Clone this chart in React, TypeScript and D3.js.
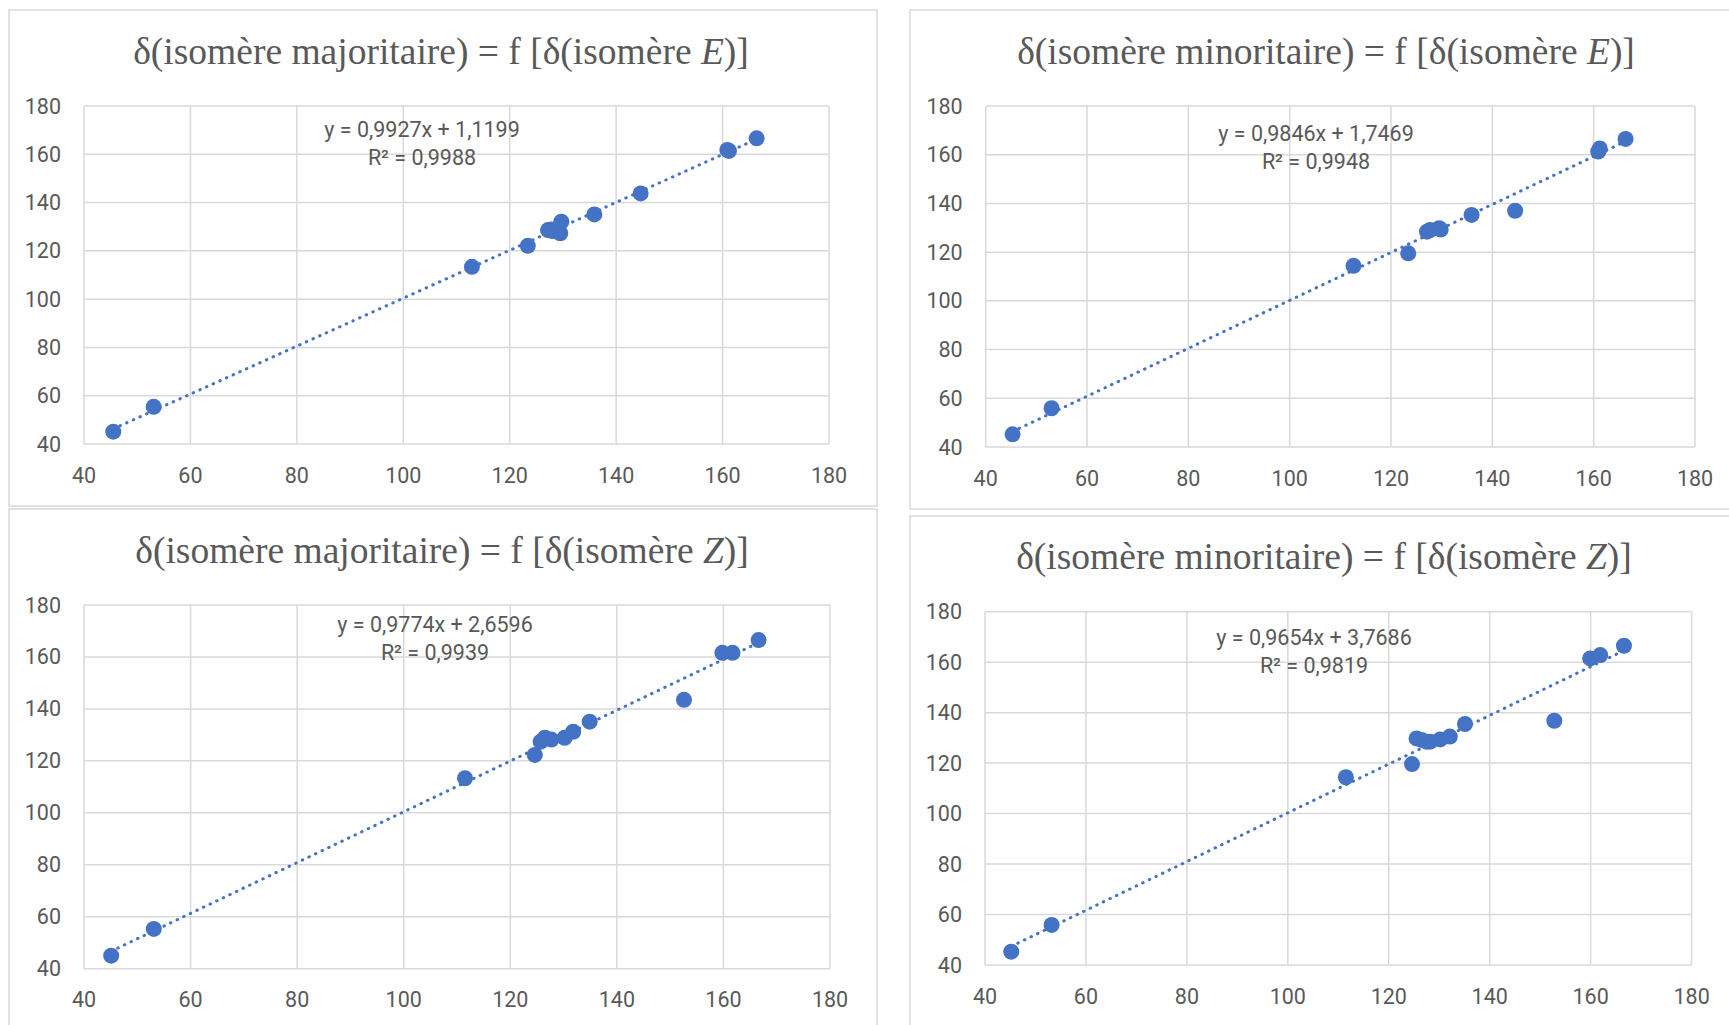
import React from "react";
import * as d3 from "d3";

// ---------- data ----------
const ticks = [40, 60, 80, 100, 120, 140, 160, 180];

const titlePrefix = [
  "δ(isomère majoritaire) = f [δ(isomère ",
  "δ(isomère minoritaire) = f [δ(isomère ",
  "δ(isomère majoritaire) = f [δ(isomère ",
  "δ(isomère minoritaire) = f [δ(isomère ",
];
const titleIsomer = ["E", "E", "Z", "Z"];

// Panel 1: majoritaire vs E
const xE_maj = [45.5, 53.1, 112.9, 123.4, 127.2, 127.8, 128.0, 129.5, 129.7, 135.9, 144.6, 160.9, 161.2, 166.4];
const yMaj_E = [45.1, 55.4, 113.4, 122.1, 128.6, 128.8, 128.2, 127.3, 132.1, 135.1, 143.8, 161.8, 161.4, 166.6];
// Panel 2: minoritaire vs E
const xE_min = [45.3, 53.0, 112.6, 123.4, 127.1, 127.7, 129.5, 129.8, 135.9, 144.5, 160.9, 161.2, 166.3];
const yMin_E = [45.2, 55.9, 114.4, 119.5, 128.4, 129.1, 129.8, 129.3, 135.3, 137.0, 161.3, 162.6, 166.5];
// Panel 3: majoritaire vs Z
const xZ_maj = [45.1, 53.1, 111.5, 124.6, 125.7, 126.5, 127.7, 130.2, 131.8, 134.9, 152.6, 159.8, 161.7, 166.6];
const yMaj_Z = [45.0, 55.3, 113.3, 122.3, 127.4, 128.9, 128.2, 128.9, 131.2, 135.1, 143.5, 161.6, 161.6, 166.5];
// Panel 4: minoritaire vs Z
const xZ_min = [45.2, 53.2, 111.5, 124.6, 125.5, 126.5, 127.5, 128.2, 130.2, 132.1, 135.1, 152.8, 159.9, 161.9, 166.6];
const yMin_Z = [45.3, 55.9, 114.4, 119.6, 129.8, 129.2, 128.5, 128.5, 129.4, 130.5, 135.5, 136.8, 161.5, 162.8, 166.5];

const slopes = [0.9927, 0.9846, 0.9774, 0.9654];
const intercepts = [1.1199, 1.7469, 2.6596, 3.7686];
const r2 = [0.9988, 0.9948, 0.9939, 0.9819];

const seriesX = [xE_maj, xE_min, xZ_maj, xZ_min];
const seriesY = [yMaj_E, yMin_E, yMaj_Z, yMin_Z];

// ---------- layout ----------
const layout = [
  { px0: 84, px1: 829, py0: 106, py1: 444, fx: 9, fy: 10, fw: 868, fh: 496, tx: 441, ty: 64, ex: 422, ey: 137 },
  { px0: 985.7, px1: 1695, py0: 106, py1: 447, fx: 910, fy: 10, fw: 830, fh: 499, tx: 1326, ty: 64, ex: 1316, ey: 141 },
  { px0: 84, px1: 830, py0: 605, py1: 968.7, fx: 9, fy: 509, fw: 868, fh: 530, tx: 442, ty: 563, ex: 435, ey: 632 },
  { px0: 985, px1: 1691.6, py0: 611.7, py1: 965, fx: 910, fy: 516, fw: 830, fh: 520, tx: 1324, ty: 569, ex: 1314, ey: 645 },
];

const BLUE = "#4472C4";
const GRID = "#D9D9D9";
const TEXT = "#595959";
const fmt = (v: number) => v.toFixed(4).replace(".", ",");

function Panel({ i }: { i: number }) {
  const L = layout[i];
  const x = d3.scaleLinear().domain([40, 180]).range([L.px0, L.px1]);
  const y = d3.scaleLinear().domain([40, 180]).range([L.py1, L.py0]);
  const xs = seriesX[i];
  const ys = seriesY[i];
  const [xmin, xmax] = d3.extent(xs) as [number, number];
  const f = (v: number) => slopes[i] * v + intercepts[i];
  const line = d3.line<number>().x((d) => x(d)).y((d) => y(f(d)));
  return (
    <g>
      <rect x={L.fx} y={L.fy} width={L.fw} height={L.fh} fill="#fff" stroke={GRID} strokeWidth={1.5} />
      <text
        x={L.tx}
        y={L.ty}
        textAnchor="middle"
        fontFamily="'Liberation Serif', 'Times New Roman', serif"
        fontSize={37.5}
        fill={TEXT}
      >
        {titlePrefix[i]}
        <tspan fontStyle="italic">{titleIsomer[i]}</tspan>
        {")]"}
      </text>
      {ticks.map((t) => (
        <line key={"h" + t} x1={L.px0} x2={L.px1} y1={y(t)} y2={y(t)} stroke={GRID} strokeWidth={1.5} />
      ))}
      {ticks.map((t) => (
        <line key={"v" + t} x1={x(t)} x2={x(t)} y1={L.py0} y2={L.py1} stroke={GRID} strokeWidth={1.5} />
      ))}
      {ticks.map((t) => (
        <text
          key={"yl" + t}
          x={L.px0 - 23}
          y={y(t)}
          dy="0.35em"
          textAnchor="end"
          fontFamily="Roboto, sans-serif"
          fontSize={21.5}
          fill={TEXT}
        >
          {t}
        </text>
      ))}
      {ticks.map((t) => (
        <text
          key={"xl" + t}
          x={x(t)}
          y={L.py1 + 31}
          dy="0.35em"
          textAnchor="middle"
          fontFamily="Roboto, sans-serif"
          fontSize={21.5}
          fill={TEXT}
        >
          {t}
        </text>
      ))}
      <path
        d={line([xmin, xmax]) || ""}
        fill="none"
        stroke={BLUE}
        strokeWidth={3}
        strokeLinecap="round"
        strokeDasharray="0.5 6.8"
      />
      {xs.map((v, k) => (
        <circle key={k} cx={x(v)} cy={y(ys[k])} r={8} fill={BLUE} />
      ))}
      <text x={L.ex} y={L.ey} textAnchor="middle" fontFamily="Roboto, sans-serif" fontSize={21.5} fill={TEXT}>
        {`y = ${fmt(slopes[i])}x + ${fmt(intercepts[i])}`}
      </text>
      <text x={L.ex} y={L.ey + 28} textAnchor="middle" fontFamily="Roboto, sans-serif" fontSize={21.5} fill={TEXT}>
        {`R² = ${fmt(r2[i])}`}
      </text>
    </g>
  );
}

export default function App() {
  return (
    <svg
      width={1729}
      height={1025}
      style={{ position: "absolute", left: 0, top: 0, background: "#fff" }}
    >
      <rect width={1729} height={1025} fill="#fff" />
      {[0, 1, 2, 3].map((i) => (
        <Panel key={i} i={i} />
      ))}
    </svg>
  );
}
